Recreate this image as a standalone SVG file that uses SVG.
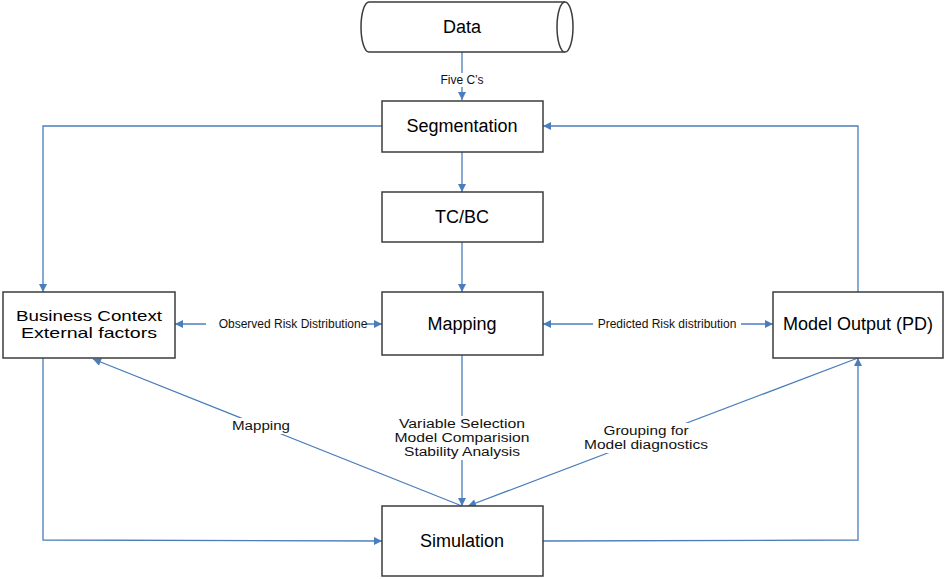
<svg xmlns="http://www.w3.org/2000/svg" width="945" height="579" viewBox="0 0 945 579">
<defs>
<marker id="arr" viewBox="0 0 10 10" refX="10" refY="5" markerWidth="9" markerHeight="8" markerUnits="userSpaceOnUse" orient="auto-start-reverse">
<path d="M0,0 L10,5 L0,10 Z" fill="#4a7ebb"/>
</marker>
</defs>
<style>
.box{fill:#fff;stroke:#3c3c3c;stroke-width:1.5}
.big{font-family:"Liberation Sans",Arial,sans-serif;font-size:18px;fill:#000;text-anchor:middle}
.two{font-family:"Liberation Sans",Arial,sans-serif;font-size:15px;fill:#000;text-anchor:middle}
.mid{font-family:"Liberation Sans",Arial,sans-serif;font-size:12.5px;fill:#111;text-anchor:middle}
.sm{font-family:"Liberation Sans",Arial,sans-serif;font-size:12px;fill:#111;text-anchor:middle}
.c{fill:none;stroke:#4a7ebb;stroke-width:1.3}
.bg{fill:#fff}
</style>
<rect width="945" height="579" fill="#fff"/>
<g id="connectors">
<path class="c" d="M462,52 L462,100" marker-end="url(#arr)"/>
<path class="c" d="M382,126 L43,126 L43,292" marker-end="url(#arr)"/>
<path class="c" d="M858,292 L858,126 L543,126" marker-end="url(#arr)"/>
<path class="c" d="M462,152 L462,192" marker-end="url(#arr)"/>
<path class="c" d="M462,242 L462,292" marker-end="url(#arr)"/>
<path class="c" d="M175,324 L382,324" marker-start="url(#arr)" marker-end="url(#arr)"/>
<path class="c" d="M543,324 L773,324" marker-start="url(#arr)" marker-end="url(#arr)"/>
<path class="c" d="M462,355 L462,506" marker-end="url(#arr)"/>
<path class="c" d="M462,506 L93,359" marker-end="url(#arr)"/>
<path class="c" d="M858,358 L468,506" marker-end="url(#arr)"/>
<path class="c" d="M43,358 L43,540 L382,541" marker-end="url(#arr)"/>
<path class="c" d="M543,541 L858,540 L858,358" marker-end="url(#arr)"/>
<rect class="bg" x="438" y="73" width="48" height="14"/>
<text class="sm" x="462" y="84">Five C’s</text>
<rect class="bg" x="206" y="317" width="160" height="14"/>
<text class="sm" x="293" y="328">Observed Risk Distributione</text>
<rect class="bg" x="593" y="317" width="148" height="14"/>
<text class="sm" x="667" y="328">Predicted Risk distribution</text>
<rect class="bg" x="393" y="416" width="139" height="44"/>
<text class="mid" x="462" y="428" textLength="126" lengthAdjust="spacingAndGlyphs">Variable Selection</text>
<text class="mid" x="462" y="442" textLength="135" lengthAdjust="spacingAndGlyphs">Model Comparision</text>
<text class="mid" x="462" y="456" textLength="116" lengthAdjust="spacingAndGlyphs">Stability Analysis</text>
<rect class="bg" x="230" y="418" width="62" height="16"/>
<text class="mid" x="261" y="430" textLength="58" lengthAdjust="spacingAndGlyphs">Mapping</text>
<rect class="bg" x="582" y="423" width="130" height="30"/>
<text class="mid" x="646" y="435" textLength="85" lengthAdjust="spacingAndGlyphs">Grouping for</text>
<text class="mid" x="646" y="449" textLength="124" lengthAdjust="spacingAndGlyphs">Model diagnostics</text>
</g>
<g id="data">
<path class="box" d="M369,2 L565,2 A8,25 0 0 1 565,52 L369,52 A8,25 0 0 1 369,2 Z"/>
<path class="box" d="M565,2 A8,25 0 0 0 565,52" fill="none"/>
<text class="big" x="462" y="33">Data</text>
</g>
<g id="segmentation">
<rect class="box" x="382" y="101" width="161" height="51"/>
<text class="big" x="462" y="132">Segmentation</text>
</g>
<g id="tcbc">
<rect class="box" x="382" y="192" width="161" height="50"/>
<text class="big" x="462" y="223">TC/BC</text>
</g>
<g id="mapping">
<rect class="box" x="382" y="292" width="161" height="63"/>
<text class="big" x="462" y="330">Mapping</text>
</g>
<g id="business">
<rect class="box" x="3" y="292" width="172" height="66"/>
<text class="two" x="89" y="321" textLength="146" lengthAdjust="spacingAndGlyphs">Business Context</text>
<text class="two" x="89" y="338" textLength="136" lengthAdjust="spacingAndGlyphs">External factors</text>
</g>
<g id="modeloutput">
<rect class="box" x="773" y="292" width="170" height="66"/>
<text class="big" x="858" y="330">Model Output (PD)</text>
</g>
<g id="simulation">
<rect class="box" x="382" y="506" width="161" height="70"/>
<text class="big" x="462" y="547">Simulation</text>
</g>
</svg>
